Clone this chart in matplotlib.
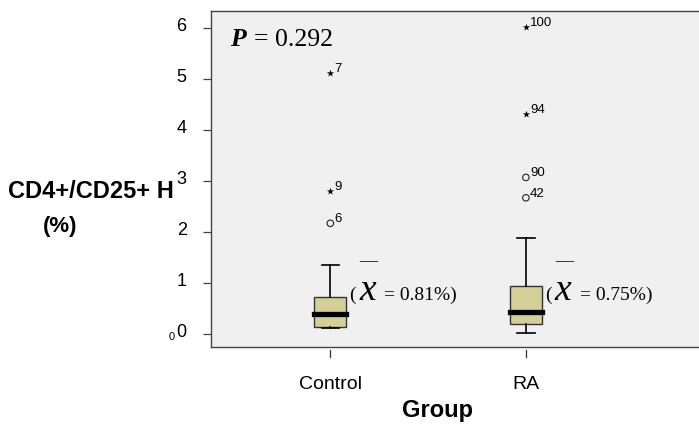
import matplotlib
matplotlib.use('Agg')
import matplotlib.pyplot as plt
import matplotlib.transforms as mtransforms

# box summaries (values in %)
groups = ['Control', 'RA']
q1 = [0.13, 0.20]
medians = [0.39, 0.44]
q3 = [0.73, 0.95]
whis_lo = [0.11, 0.01]
whis_hi = [1.35, 1.89]
mean_labels = ['0.81%', '0.75%']

# outliers: (group index, value, case id)
circle_group = [0, 1, 1]
circle_vals = [2.17, 3.07, 2.67]
circle_ids = ['6', '90', '42']
star_group = [0, 0, 1, 1]
star_vals = [2.81, 5.12, 4.31, 6.01]
star_ids = ['9', '7', '94', '100']

y_ticks = [0, 1, 2, 3, 4, 5, 6]
p_value = '0.292'

plt.rcParams['font.family'] = ['Liberation Sans', 'DejaVu Sans']
serif = 'Liberation Serif'

fig = plt.figure(figsize=(6.99, 4.24), dpi=100)
ax = fig.add_axes([0.3019, 0.1816, 0.70, 0.7925])
ax.set_facecolor('#F0F0F0')

pos = [1, 2]
stats = []
for i in range(len(groups)):
    stats.append({'q1': q1[i], 'med': medians[i], 'q3': q3[i],
                  'whislo': whis_lo[i], 'whishi': whis_hi[i], 'label': groups[i]})

ax.bxp(stats, positions=pos, widths=0.164, showfliers=False, patch_artist=True,
       boxprops=dict(facecolor='#D4CF99', edgecolor='#333333', linewidth=1.0),
       medianprops=dict(color='black', linewidth=3.8, solid_capstyle='projecting'),
       whiskerprops=dict(color='black', linewidth=1.2),
       capprops=dict(color='black', linewidth=1.2),
       capwidths=0.09)

# outliers
cx = [pos[g] for g in circle_group]
ax.scatter(cx, circle_vals, s=22, facecolors='none', edgecolors='#222222', linewidths=0.8, zorder=4)
sx = [pos[g] for g in star_group]
ax.scatter(sx, star_vals, s=30, marker='*', color='black', linewidths=0, zorder=4)
for x, v, t in zip(cx + sx, circle_vals + star_vals, circle_ids + star_ids):
    ax.annotate(t, (x, v), xytext=(4, 4), textcoords='offset pixels',
                fontsize=9.5, ha='left', va='center')

# mean annotations, "( x-bar = ...)"
mean_y = 0.76
for i, lab in enumerate(mean_labels):
    xy = (pos[i], mean_y)
    ax.annotate('(', xy, xytext=(19, 0), textcoords='offset pixels',
                fontsize=14, family=serif, ha='left', va='center')
    ax.annotate('x', xy, xytext=(29, 4), textcoords='offset pixels',
                fontsize=27, family=serif, style='italic', ha='left', va='center')
    ax.annotate('\u2014', xy, xytext=(29, 34), textcoords='offset pixels',
                fontsize=13, family=serif, ha='left', va='center')
    ax.annotate('= ' + lab + ')', xy, xytext=(54, 0), textcoords='offset pixels',
                fontsize=14, family=serif, ha='left', va='center')

# P value in the top left corner
ax.text(0.039, 0.896, 'P', transform=ax.transAxes, fontsize=18.5, family=serif,
        weight='bold', style='italic', ha='left', va='baseline')
ax.text(0.087, 0.896, '= ' + p_value, transform=ax.transAxes, fontsize=18.5,
        family=serif, ha='left', va='baseline')

ax.set_xlim(0.39, 2.892)
ax.set_ylim(-0.255, 6.333)
ax.set_yticks(y_ticks)
ax.set_yticklabels([str(t) for t in y_ticks])
ax.set_xticks(pos)
ax.set_xticklabels(groups)
ax.tick_params(axis='y', length=5.5, width=0.9, color='#444444', labelsize=13, pad=12)
ax.tick_params(axis='x', length=0, labelsize=14, pad=21)
shift = mtransforms.ScaledTranslation(0, 3 / 100, fig.dpi_scale_trans)
for lab in ax.get_yticklabels():
    lab.set_transform(lab.get_transform() + shift)

# detached x tick marks below the axis
xt = mtransforms.blended_transform_factory(ax.transData, ax.transAxes)
for p in pos:
    ax.plot([p, p], [-3 / 336, -10 / 336], transform=xt, color='#333333',
            lw=0.9, clip_on=False)

for s in ['left', 'bottom', 'top']:
    ax.spines[s].set_color('#444444')
    ax.spines[s].set_linewidth(1.0)
ax.spines['right'].set_visible(False)

# axis titles
fig.text(174 / 699, 1 - 192 / 424, 'CD4+/CD25+ H', fontsize=17, weight='bold',
         ha='right', va='center')
fig.text(60 / 699, 1 - 226 / 424, '(%)', fontsize=16, weight='bold',
         ha='center', va='center')
fig.text(437 / 699, 1 - 410 / 424, 'Group', fontsize=17, weight='bold',
         ha='center', va='center')
fig.text(172 / 699, 1 - 337 / 424, '0', fontsize=8, ha='center', va='center')

plt.savefig('out.png', dpi=100)
